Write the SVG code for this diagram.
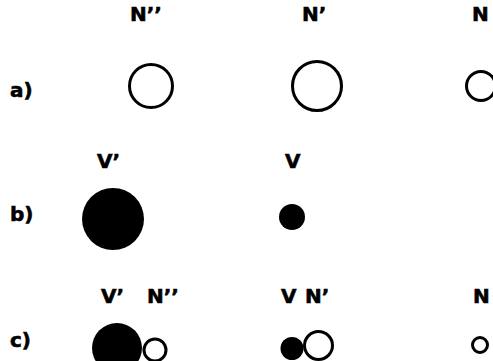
<svg xmlns="http://www.w3.org/2000/svg" width="493" height="361" viewBox="0 0 493 361">
<style>
text{font-family:"DejaVu Sans","Liberation Sans",sans-serif;font-weight:bold;font-size:20px;fill:#000;stroke:#000;stroke-width:0.6}
.open{fill:#fff;stroke:#000;stroke-width:3}
.solid{fill:#000;stroke:none}
</style>
<rect width="493" height="361" fill="#fff"/>
<g id="row-labels">
<text x="10" y="97">a)</text>
<text x="10" y="221">b)</text>
<text x="10" y="347">c)</text>
</g>
<g id="a-Npp"><text x="130" y="21">N’’</text><circle class="open" cx="151" cy="86" r="21.5"/></g>
<g id="a-Np"><text x="302" y="21">N’</text><circle class="open" cx="317" cy="86" r="24.5"/></g>
<g id="a-N"><text x="472" y="21">N</text><circle class="open" cx="481" cy="86" r="14.5"/></g>
<g id="b-Vp"><text x="97" y="168">V’</text><circle class="solid" cx="113" cy="219" r="31"/></g>
<g id="b-V"><text x="285" y="168">V</text><circle class="solid" cx="292" cy="217" r="13"/></g>
<g id="c-Vp"><text x="101" y="303">V’</text><circle class="solid" cx="117" cy="348" r="25"/></g>
<g id="c-Npp"><text x="147" y="303">N’’</text><circle class="open" cx="155" cy="350" r="11"/></g>
<g id="c-V"><text x="281" y="303">V</text><circle class="solid" cx="292" cy="348.5" r="11.5"/></g>
<g id="c-Np"><text x="305" y="303">N’</text><circle class="open" cx="318.5" cy="345.5" r="14"/></g>
<g id="c-N"><text x="473" y="303">N</text><circle class="open" cx="480" cy="345" r="7.5"/></g>
<g id="connectors"></g>
</svg>
